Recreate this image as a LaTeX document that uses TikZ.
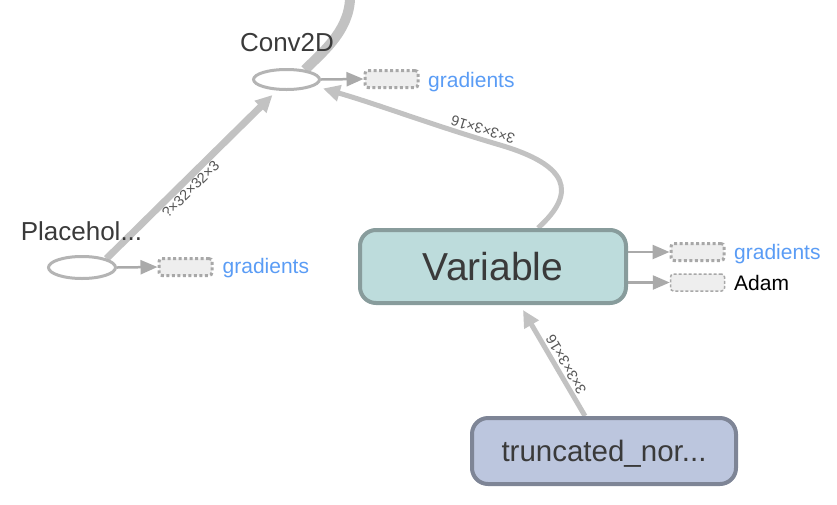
\documentclass[tikz,border=0pt]{standalone}
\usepackage{fontspec}
\setmainfont{Liberation Sans}
\usetikzlibrary{arrows.meta,calc,shapes.geometric}
\definecolor{edgegray}{HTML}{C2C2C2}
\definecolor{arrgray}{HTML}{AAAAAA}
\definecolor{ellgray}{HTML}{B4B4B4}
\definecolor{varfill}{HTML}{BDDCDC}
\definecolor{varline}{HTML}{889C9C}
\definecolor{trfill}{HTML}{BCC6DE}
\definecolor{trline}{HTML}{7E8596}
\definecolor{txtdark}{HTML}{3A3A3A}
\definecolor{linkblue}{HTML}{5A9CF5}
\definecolor{boxfill}{HTML}{EEEEEE}
\definecolor{boxline}{HTML}{A8A8A8}
\definecolor{lblgray}{HTML}{555555}
\pgfdeclarelayer{bg}
\pgfsetlayers{bg,main}
\begin{document}
\begin{tikzpicture}[x=1pt,y=-1pt,
  opnode/.style={ellipse, draw=ellgray, line width=3pt, fill=white, inner sep=0pt},
  metanode/.style={rectangle, rounded corners=16pt, line width=4pt, inner sep=0pt, text=txtdark, text depth=0pt},
  auxdot/.style={rectangle, rounded corners=3pt, fill=boxfill, draw=boxline, line width=3pt, dash pattern=on 3pt off 2.5pt, minimum width=53pt, minimum height=17pt, inner sep=0pt},
  auxdash/.style={rectangle, rounded corners=3pt, fill=boxfill, draw=boxline, line width=1.5pt, dash pattern=on 3pt off 2pt, minimum width=54pt, minimum height=17pt, inner sep=0pt},
  oplabel/.style={text=txtdark, font=\fontsize{26}{30}\selectfont, inner sep=0pt},
  auxtext/.style={anchor=base west, inner sep=0pt, font=\fontsize{21}{24}\selectfont},
  smallarrow/.style={draw=arrgray, line width=2.5pt, -{Triangle[length=17pt,width=14pt]}},
  bigedge/.style={draw=edgegray, -{Triangle[length=17pt,width=16pt]}},
  elabel/.style={sloped, allow upside down, text=lblgray, font=\fontsize{14.5}{16}\selectfont, inner sep=1pt}
]
\useasboundingbox (0,0) rectangle (837,504);

% nodes
\node[opnode, minimum width=66pt, minimum height=20pt] (conv) at (286.5,79.5) {};
\node[oplabel] (convlbl) at (287,43) {Conv2D};
\node[opnode, minimum width=67pt, minimum height=22pt] (plh) at (82,267.5) {};
\node[oplabel] (plhlbl) at (81.5,231) {Placehol...};
\node[metanode, fill=varfill, draw=varline, minimum width=266pt, minimum height=73pt,
      font=\fontsize{39}{44}\selectfont] (var) at (493,266.5) {Variable};
\node[metanode, fill=trfill, draw=trline, minimum width=264pt, minimum height=66pt,
      font=\fontsize{29.5}{33}\selectfont] (trunc) at (604,451) {truncated\_nor...};

\node[auxdot] (g1) at (391.5,79) {};
\node[auxtext, text=linkblue] (g1t) at (428,87.5) {gradients};
\node[auxdot] (g2) at (185.5,267) {};
\node[auxtext, text=linkblue] (g2t) at (222.5,273.5) {gradients};
\node[auxdot] (g3) at (697.5,252) {};
\node[auxtext, text=linkblue] (g3t) at (734,259.5) {gradients};
\node[auxdash] (adam) at (697.5,282.5) {};
\node[auxtext, text=black] (adamt) at (734,290) {Adam};

\coordinate (topout) at (350,-8);

% edges
\begin{pgfonlayer}{bg}
\draw[draw=edgegray, line width=10pt] (conv.28) .. controls (325,50) and (352,28) .. (topout);
\draw[bigedge, line width=7pt] (plh.20) -- ($(conv.south)+(-14,4)$)
  node[elabel, pos=0.466, below=0pt] {?×32×32×3};
\draw[bigedge, line width=5pt] ($(var.north)+(45,0)$) .. controls (578,192) and (568,165) .. (500,145)
  .. controls (432,125) and (380,105) .. ($(conv.east)+(2,9)$)
  node[elabel, pos=0.10, below=1pt] {3×3×3×16};
\draw[bigedge, line width=5pt] ($(trunc.north)+(-19,0)$) -- ($(var.south)+(30,5)$)
  node[elabel, pos=0.44, below=1pt] {3×3×3×16};

\draw[smallarrow] (conv.east) -- (g1.west);
\draw[smallarrow] (plh.east) -- (g2.west);
\draw[smallarrow] (var.east |- g3.west) -- (g3.west);
\draw[smallarrow] (var.east |- adam.west) -- (adam.west);
\end{pgfonlayer}
\end{tikzpicture}
\end{document}
